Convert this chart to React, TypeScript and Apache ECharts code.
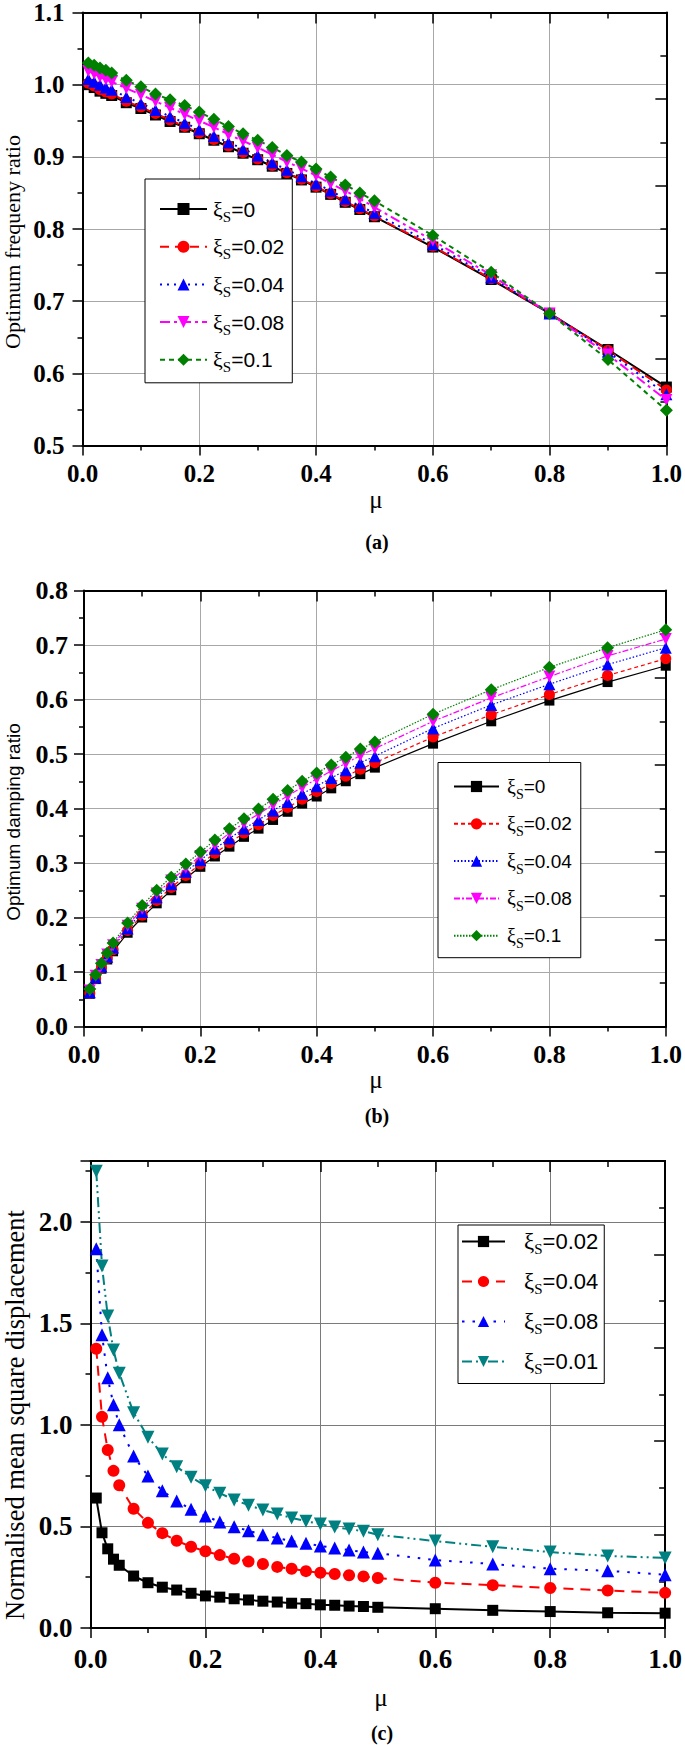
import React, { useEffect, useRef } from "react";
import * as echarts from "echarts";

// ---------- data ----------
const MU = [0.01, 0.02, 0.03, 0.04, 0.05, 0.075, 0.1, 0.125, 0.15, 0.175, 0.2, 0.225, 0.25, 0.275, 0.3, 0.325, 0.35, 0.375, 0.4, 0.425, 0.45, 0.475, 0.5, 0.6, 0.7, 0.8, 0.9, 1.0];

// (a) Optimum frequency ratio
const FREQ_XI0 = [1.000, 0.996, 0.991, 0.988, 0.985, 0.975, 0.967, 0.958, 0.949, 0.941, 0.932, 0.923, 0.914, 0.905, 0.896, 0.887, 0.877, 0.868, 0.858, 0.848, 0.837, 0.827, 0.817, 0.775, 0.730, 0.683, 0.633, 0.581];
const FREQ_XI002 = [1.002, 0.998, 0.993, 0.990, 0.987, 0.977, 0.969, 0.960, 0.951, 0.942, 0.933, 0.924, 0.915, 0.906, 0.897, 0.888, 0.878, 0.869, 0.859, 0.849, 0.838, 0.828, 0.818, 0.776, 0.731, 0.683, 0.632, 0.577];
const FREQ_XI004 = [1.008, 1.004, 1.000, 0.996, 0.993, 0.983, 0.974, 0.965, 0.956, 0.947, 0.938, 0.929, 0.920, 0.911, 0.902, 0.892, 0.882, 0.873, 0.863, 0.853, 0.842, 0.832, 0.822, 0.779, 0.733, 0.683, 0.630, 0.571];
const FREQ_XI008 = [1.019, 1.015, 1.011, 1.007, 1.004, 0.995, 0.986, 0.977, 0.968, 0.959, 0.950, 0.941, 0.931, 0.922, 0.913, 0.903, 0.893, 0.884, 0.874, 0.863, 0.853, 0.842, 0.830, 0.784, 0.736, 0.683, 0.626, 0.563];
const FREQ_XI01 = [1.030, 1.027, 1.023, 1.020, 1.016, 1.006, 0.997, 0.987, 0.979, 0.971, 0.962, 0.952, 0.942, 0.932, 0.923, 0.913, 0.902, 0.893, 0.883, 0.872, 0.861, 0.850, 0.839, 0.791, 0.740, 0.683, 0.619, 0.549];

// (b) Optimum damping ratio
const DAMP_XI0 = [0.060, 0.087, 0.106, 0.123, 0.138, 0.172, 0.200, 0.226, 0.250, 0.272, 0.293, 0.312, 0.330, 0.348, 0.363, 0.379, 0.394, 0.409, 0.422, 0.437, 0.450, 0.463, 0.475, 0.519, 0.560, 0.598, 0.632, 0.662];
const DAMP_XI002 = [0.061, 0.088, 0.108, 0.125, 0.141, 0.176, 0.204, 0.231, 0.255, 0.277, 0.298, 0.318, 0.337, 0.355, 0.370, 0.387, 0.402, 0.417, 0.431, 0.446, 0.459, 0.472, 0.484, 0.531, 0.572, 0.609, 0.644, 0.675];
const DAMP_XI004 = [0.063, 0.090, 0.110, 0.128, 0.145, 0.180, 0.210, 0.237, 0.261, 0.284, 0.305, 0.326, 0.345, 0.363, 0.379, 0.396, 0.412, 0.427, 0.441, 0.456, 0.470, 0.484, 0.496, 0.547, 0.590, 0.628, 0.664, 0.695];
const DAMP_XI008 = [0.066, 0.093, 0.113, 0.132, 0.149, 0.185, 0.216, 0.244, 0.268, 0.291, 0.313, 0.334, 0.355, 0.373, 0.390, 0.407, 0.423, 0.439, 0.454, 0.469, 0.483, 0.497, 0.510, 0.560, 0.603, 0.642, 0.680, 0.711];
const DAMP_XI01 = [0.069, 0.095, 0.116, 0.135, 0.153, 0.190, 0.222, 0.250, 0.274, 0.298, 0.320, 0.342, 0.363, 0.381, 0.399, 0.417, 0.433, 0.450, 0.465, 0.480, 0.494, 0.509, 0.522, 0.573, 0.618, 0.659, 0.695, 0.728];

// (c) Normalised mean square displacement
const NMSD_XI002 = [0.640, 0.469, 0.390, 0.339, 0.309, 0.256, 0.223, 0.201, 0.187, 0.171, 0.158, 0.152, 0.144, 0.138, 0.132, 0.128, 0.122, 0.120, 0.114, 0.112, 0.108, 0.106, 0.102, 0.095, 0.087, 0.081, 0.075, 0.073];
const NMSD_XI004 = [1.375, 1.040, 0.877, 0.774, 0.703, 0.587, 0.518, 0.467, 0.430, 0.400, 0.378, 0.359, 0.341, 0.327, 0.315, 0.301, 0.292, 0.280, 0.272, 0.266, 0.260, 0.254, 0.246, 0.223, 0.211, 0.197, 0.185, 0.173];
const NMSD_XI008 = [1.868, 1.444, 1.232, 1.100, 1.001, 0.847, 0.749, 0.676, 0.625, 0.585, 0.552, 0.522, 0.499, 0.479, 0.459, 0.443, 0.428, 0.418, 0.404, 0.394, 0.384, 0.374, 0.368, 0.335, 0.315, 0.292, 0.282, 0.262];
const NMSD_XI001 = [2.250, 1.783, 1.537, 1.369, 1.255, 1.060, 0.940, 0.857, 0.794, 0.743, 0.700, 0.664, 0.631, 0.605, 0.581, 0.562, 0.542, 0.526, 0.512, 0.497, 0.487, 0.477, 0.459, 0.428, 0.400, 0.374, 0.355, 0.345];

const LEGEND_A = ["0", "0.02", "0.04", "0.08", "0.1"];
const LEGEND_B = ["0", "0.02", "0.04", "0.08", "0.1"];
const LEGEND_C = ["0.02", "0.04", "0.08", "0.01"];

const TITLE_A = "Optimum frequeny ratio";
const TITLE_B = "Optimum damping ratio";
const TITLE_C = "Normalised mean square displacement";
const X_TITLE = "μ";

// ---------- styling ----------
const SERIF = "'Liberation Serif', 'Times New Roman', serif";
const SANS = "'Liberation Sans', Arial, sans-serif";

const GRIDS = [
  { left: 82.5, top: 10.5, width: 585, height: 435 },
  { left: 84, top: 590.5, width: 585, height: 436 },
  { left: 90.5, top: 1161, width: 580, height: 467 },
];

type SDef = {
  key: string;
  label: string;
  data: number[];
  color: string;
  dash: any;
  width: number;
  symbol: string;
  size: number;
  rotate?: number;
};

const pairs = (ys: number[]) => MU.map((m, i) => [m, ys[i]]);

function bottomX(gi: number, fs: number, margin: number, gridColor: string) {
  return {
    type: "value", gridIndex: gi, position: "bottom", min: 0, max: 1, interval: 0.2,
    axisLine: { show: true, onZero: false, lineStyle: { color: "#000", width: 2 } },
    axisTick: { show: true, inside: false, length: 10, lineStyle: { color: "#000", width: 1.5 } },
    minorTick: { show: true, splitNumber: 2, length: 5, lineStyle: { color: "#000", width: 1.5 } },
    splitLine: { show: true, lineStyle: { color: gridColor, width: 1 } },
    axisLabel: {
      show: true, margin, color: "#000", fontFamily: SERIF, fontWeight: "bold", fontSize: fs,
      formatter: (v: number) => v.toFixed(1),
    },
  };
}
function topX(gi: number) {
  return {
    type: "value", gridIndex: gi, position: "top", min: 0, max: 1, interval: 0.2,
    axisLine: { show: true, onZero: false, lineStyle: { color: "#000", width: 2 } },
    axisTick: { show: true, inside: true, length: 11, lineStyle: { color: "#000", width: 1.5 } },
    minorTick: { show: true, splitNumber: 2, length: 6, lineStyle: { color: "#000", width: 1.5 } },
    splitLine: { show: false },
    axisLabel: { show: false },
  };
}
function leftY(gi: number, min: number, max: number, interval: number, fs: number, margin: number, gridColor: string, hideMax: boolean) {
  return {
    type: "value", gridIndex: gi, position: "left", min, max, interval,
    axisLine: { show: true, onZero: false, lineStyle: { color: "#000", width: 2 } },
    axisTick: { show: true, inside: false, length: 10, lineStyle: { color: "#000", width: 1.5 } },
    minorTick: { show: true, splitNumber: 2, length: 5, lineStyle: { color: "#000", width: 1.5 } },
    splitLine: { show: true, lineStyle: { color: gridColor, width: 1 } },
    axisLabel: {
      show: true, margin, color: "#000", fontFamily: SERIF, fontWeight: "bold", fontSize: fs,
      showMaxLabel: !hideMax,
      formatter: (v: number) => v.toFixed(1),
    },
  };
}
function rightY(gi: number) {
  return {
    type: "value", gridIndex: gi, position: "right", min: 0, max: 10, interval: 2,
    axisLine: { show: true, onZero: false, lineStyle: { color: "#000", width: 2 } },
    axisTick: { show: true, inside: true, length: 11, lineStyle: { color: "#000", width: 1.5 } },
    minorTick: { show: true, splitNumber: 2, length: 6, lineStyle: { color: "#000", width: 1.5 } },
    splitLine: { show: false },
    axisLabel: { show: false },
  };
}

function richFor(fs: number, subFs: number, padL: number) {
  return {
    xi: { fontFamily: SERIF, fontSize: fs + 1, lineHeight: 30, verticalAlign: "middle", padding: [0, 0, 0, padL], color: "#000" },
    sub: { fontFamily: SERIF, fontSize: subFs, lineHeight: subFs - 1, verticalAlign: "bottom", color: "#000" },
    eq: { fontFamily: SANS, fontSize: fs, lineHeight: 30, verticalAlign: "middle", color: "#000" },
  };
}

export default function App() {
  const ref = useRef<HTMLDivElement>(null);

  useEffect(() => {
    document.body.style.margin = "0";
    if (!ref.current) return;
    const chart = echarts.init(ref.current, undefined, { renderer: "svg" });

    const defsA: SDef[] = [
      { key: "a0", label: LEGEND_A[0], data: FREQ_XI0, color: "#000000", dash: "solid", width: 2, symbol: "rect", size: 11 },
      { key: "a1", label: LEGEND_A[1], data: FREQ_XI002, color: "#ff0000", dash: [9, 6], width: 2, symbol: "circle", size: 11 },
      { key: "a2", label: LEGEND_A[2], data: FREQ_XI004, color: "#0000ff", dash: [2, 5], width: 2, symbol: "triangle", size: 12 },
      { key: "a3", label: LEGEND_A[3], data: FREQ_XI008, color: "#ff00ff", dash: [10, 4, 3, 4], width: 2, symbol: "triangle", size: 12, rotate: 180 },
      { key: "a4", label: LEGEND_A[4], data: FREQ_XI01, color: "#008000", dash: [5, 4], width: 2, symbol: "diamond", size: 13 },
    ];
    const defsB: SDef[] = [
      { key: "b0", label: LEGEND_B[0], data: DAMP_XI0, color: "#000000", dash: "solid", width: 1.2, symbol: "rect", size: 10 },
      { key: "b1", label: LEGEND_B[1], data: DAMP_XI002, color: "#ff0000", dash: [4, 3], width: 1.2, symbol: "circle", size: 11 },
      { key: "b2", label: LEGEND_B[2], data: DAMP_XI004, color: "#0000ff", dash: [1.5, 2], width: 1.2, symbol: "triangle", size: 12 },
      { key: "b3", label: LEGEND_B[3], data: DAMP_XI008, color: "#ff00ff", dash: [6, 2, 2, 2], width: 1.2, symbol: "triangle", size: 12, rotate: 180 },
      { key: "b4", label: LEGEND_B[4], data: DAMP_XI01, color: "#008000", dash: [1.5, 1.5], width: 1.2, symbol: "diamond", size: 13 },
    ];
    const defsC: SDef[] = [
      { key: "c0", label: LEGEND_C[0], data: NMSD_XI002, color: "#000000", dash: "solid", width: 2, symbol: "rect", size: 11 },
      { key: "c1", label: LEGEND_C[1], data: NMSD_XI004, color: "#ff0000", dash: [10, 7], width: 2, symbol: "circle", size: 12 },
      { key: "c2", label: LEGEND_C[2], data: NMSD_XI008, color: "#0000ff", dash: [2.5, 8], width: 2, symbol: "triangle", size: 13 },
      { key: "c3", label: LEGEND_C[3], data: NMSD_XI001, color: "#008080", dash: [10, 4, 2, 4, 2, 4], width: 2, symbol: "triangle", size: 13, rotate: 180 },
    ];

    const labelMap: Record<string, string> = {};
    const mk = (d: SDef, xi: number, yi: number) => {
      labelMap[d.key] = d.label;
      return {
        type: "line", name: d.key, xAxisIndex: xi, yAxisIndex: yi,
        data: pairs(d.data),
        symbol: d.symbol, symbolSize: d.size, symbolRotate: d.rotate || 0, showSymbol: true,
        lineStyle: { color: d.color, width: d.width, type: d.dash },
        itemStyle: { color: d.color, borderWidth: 0 },
        emphasis: { disabled: true },
        z: 3,
      };
    };

    const series = [
      ...defsA.map((d) => mk(d, 0, 0)),
      ...defsB.map((d) => mk(d, 2, 2)),
      ...defsC.map((d) => mk(d, 4, 4)),
    ];

    const fmt = (name: string) => `{xi|ξ}{sub|S}{eq|=${labelMap[name]}}`;

    const legendBase = {
      orient: "vertical", selectedMode: false, borderColor: "#000", borderWidth: 1,
      backgroundColor: "#fff", formatter: fmt, z: 10,
    };

    const text = (x: number, y: number, t: string, font: any, rot = 0) => ({
      type: "text", x, y, rotation: rot, z: 20,
      style: { text: t, fill: "#000", align: "center", verticalAlign: "middle", ...font },
    });

    const option: any = {
      animation: false,
      backgroundColor: "#fff",
      textStyle: { fontFamily: SERIF },
      grid: GRIDS.map((g) => ({ ...g, containLabel: false })),
      xAxis: [
        bottomX(0, 25, 15, "#a8a8a8"), topX(0),
        bottomX(1, 26, 15, "#a8a8a8"), topX(1),
        bottomX(2, 27, 17, "#7a7a7a"), topX(2),
      ],
      yAxis: [
        leftY(0, 0.5, 1.1, 0.1, 25, 18, "#a8a8a8", false), rightY(0),
        leftY(1, 0, 0.8, 0.1, 26, 16, "#a8a8a8", false), rightY(1),
        leftY(2, 0, 2.3, 0.5, 27, 18, "#7a7a7a", true), rightY(2),
      ],
      legend: [
        {
          ...legendBase, data: defsA.map((d) => d.key), left: 145, top: 179,
          itemWidth: 47, itemHeight: 15, itemGap: 11.7, padding: [19, 8, 8, 14],
          textStyle: { fontFamily: SANS, fontSize: 21, rich: richFor(21, 15, 1) },
        },
        {
          ...legendBase, data: defsB.map((d) => d.key), left: 438, top: 762.5,
          itemWidth: 45, itemHeight: 14, itemGap: 12.3, padding: [14, 9, 7, 15],
          textStyle: { fontFamily: SANS, fontSize: 19, rich: richFor(19, 14, 3) },
        },
        {
          ...legendBase, data: defsC.map((d) => d.key), left: 458, top: 1225,
          itemWidth: 43, itemHeight: 14, itemGap: 13.5, padding: [5, 6, 7, 3],
          textStyle: { fontFamily: SANS, fontSize: 22, rich: richFor(22, 15, 14) },
        },
      ],
      series,
      graphic: [
        text(12, 242, TITLE_A, { fontFamily: SERIF, fontSize: 22 }, Math.PI / 2),
        text(13, 822, TITLE_B, { fontFamily: SANS, fontSize: 19 }, Math.PI / 2),
        text(14.5, 1415, TITLE_C, { fontFamily: SERIF, fontSize: 26.5 }, Math.PI / 2),
        text(376, 499, X_TITLE, { fontFamily: SERIF, fontSize: 25 }),
        text(376, 1079, X_TITLE, { fontFamily: SERIF, fontSize: 25 }),
        text(381, 1697, X_TITLE, { fontFamily: SERIF, fontSize: 25 }),
        text(377, 542, "(a)", { fontFamily: SERIF, fontSize: 20, fontWeight: "bold" }),
        text(377, 1116, "(b)", { fontFamily: SERIF, fontSize: 20, fontWeight: "bold" }),
        text(382, 1733, "(c)", { fontFamily: SERIF, fontSize: 20, fontWeight: "bold" }),
      ],
    };

    chart.setOption(option);
    return () => chart.dispose();
  }, []);

  return <div ref={ref} style={{ width: 685, height: 1745 }} />;
}
